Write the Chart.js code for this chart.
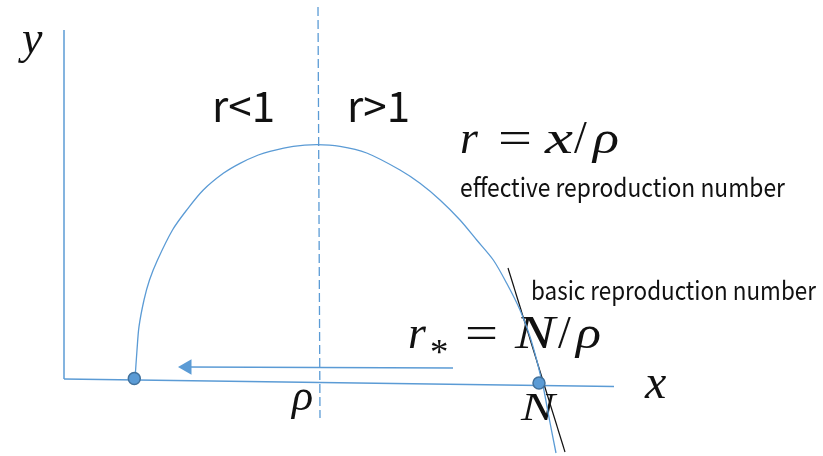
<!DOCTYPE html>
<html>
<head>
<meta charset="utf-8">
<script src="https://cdn.jsdelivr.net/npm/chart.js@4/dist/chart.umd.min.js"></script>
<style>
  html, body { margin: 0; padding: 0; background: #ffffff; }
  canvas { display: block; }
</style>
</head>
<body>
<canvas id="c" width="823" height="456"></canvas>
<script>
// Phase portrait of the SIR-type model: infected y against susceptible x.
// Units: horizontal and vertical offsets from the origin of the axes.

const rho = 255;            // threshold x = rho (r = 1)
const N = 475;              // initial susceptible population

// Trajectory through the (x, y) plane
const curveX = [71, 73, 75, 80, 85.5, 93.5, 108.5, 122.7, 139.3, 159.3, 176, 194.3, 206, 229.3, 252.7,
                276, 302.7, 336, 356, 376, 396, 412.7, 429.3, 442.7, 456, 466, 472.7, 476.8, 479.5, 485.5, 492];
const curveY = [0, 29, 52.3, 79, 99, 119, 149, 169, 189, 205.7, 215.7, 224, 227.7, 232.7, 234.3,
                232.7, 226, 209, 195.7, 179, 159, 139, 119, 95.7, 69, 42.3, 19, 2.3, -9, -41, -74];

// Axes
const yAxisX = [0, 0];
const yAxisY = [0, 349];
const xAxisX = [0, 550];
const xAxisY = [0, -7.5];

// Dashed threshold line at x = rho
const rhoLineX = [rho - 1, rho + 1];
const rhoLineY = [372, -39];

// Tangent of the trajectory at x = N
const tangentX = [444, 501];
const tangentY = [111, -73];

// Direction of motion along the x axis
const arrowX = [389, 123];
const arrowY = [11, 12];

// End points of the trajectory
const endX = [70.3, N];
const endY = [0.5, -4];

const blue = '#5b9bd5';

const toPts = (xs, ys) => xs.map((x, i) => ({ x: x, y: ys[i] }));

const sansFamily = '"Noto Sans CJK JP", "Noto Sans", sans-serif';
const serifFamily = '"Liberation Serif", "DejaVu Serif", serif';

// Text labels anchored in data units (left edge, baseline)
const textLabels = [
  { text: 'r<1', x: 148, y: 257, width: 63, stretch: 1.0 },
  { text: 'r>1', x: 283, y: 257, width: 61, stretch: 1.0 },
  { text: 'effective reproduction number', x: 396, y: 182, width: 325, stretch: 1.15 },
  { text: 'basic reproduction number', x: 467, y: 79, width: 285, stretch: 1.15 }
];

const mathLabels = [
  { x: -42, y: 326, size: 46, pieces: [{ t: 'y', dx: 0 }] },
  { x: 581, y: -19, size: 48, pieces: [{ t: 'x', dx: 0 }] },
  { x: 228, y: -31, size: 44, pieces: [{ t: 'ρ', dx: 0 }] },
  { x: 457, y: -41, size: 40, pieces: [{ t: 'N', dx: 0, w: 34 }] },
  { x: 396, y: 226, size: 46, pieces: [
      { t: 'r', dx: 0 },
      { t: '=', dx: 38, upright: true, w: 34 },
      { t: 'x', dx: 85, w: 28 },
      { t: '/', dx: 114, upright: true },
      { t: 'ρ', dx: 133, w: 26 }
  ] },
  { x: 344, y: 31, size: 46, pieces: [
      { t: 'r', dx: 0 },
      { t: '*', dx: 22, dy: 16, upright: true, scale: 0.8 },
      { t: '=', dx: 57, upright: true, w: 33 },
      { t: 'N', dx: 107, w: 40 },
      { t: '/', dx: 150, upright: true },
      { t: 'ρ', dx: 168, w: 25 }
  ] }
];

function fitFont(ctx, text, family, width) {
  ctx.font = '100px ' + family;
  const w = ctx.measureText(text).width;
  return 100 * width / w;
}

const labelPlugin = {
  id: 'labels',
  beforeDatasetsDraw(chart) {
    const ctx = chart.ctx;
    const sx = chart.scales.x, sy = chart.scales.y;
    ctx.save();
    ctx.fillStyle = '#111111';
    ctx.textBaseline = 'alphabetic';
    ctx.textAlign = 'left';

    // r<1 and r>1 share one size
    const rSize = fitFont(ctx, textLabels[0].text, sansFamily, textLabels[0].width);
    textLabels.forEach((lab, i) => {
      const size = i < 2 ? rSize : fitFont(ctx, lab.text, sansFamily, lab.width);
      ctx.font = size + 'px ' + sansFamily;
      ctx.save();
      ctx.translate(sx.getPixelForValue(lab.x), sy.getPixelForValue(lab.y));
      ctx.scale(1, lab.stretch);
      ctx.fillText(lab.text, 0, 0);
      ctx.restore();
    });

    mathLabels.forEach(lab => {
      const x0 = sx.getPixelForValue(lab.x);
      const y0 = sy.getPixelForValue(lab.y);
      lab.pieces.forEach(p => {
        const fs = lab.size * (p.scale || 1);
        ctx.font = (p.upright ? '' : 'italic ') + fs + 'px ' + serifFamily;
        const px = x0 + p.dx, py = y0 + (p.dy || 0);
        if (p.w) {
          const m = ctx.measureText(p.t).width;
          ctx.save();
          ctx.translate(px, py);
          ctx.scale(p.w / m, 1);
          ctx.fillText(p.t, 0, 0);
          ctx.restore();
        } else {
          ctx.fillText(p.t, px, py);
        }
      });
    });
    ctx.restore();
  }
};

const lineSet = (xs, ys, color, width, extra) => Object.assign({
  data: toPts(xs, ys),
  showLine: true,
  borderColor: color,
  backgroundColor: color,
  borderWidth: width,
  pointRadius: 0,
  pointHoverRadius: 0,
  tension: 0,
  clip: false
}, extra || {});

new Chart(document.getElementById('c'), {
  type: 'scatter',
  data: {
    datasets: [
      {
        data: toPts(endX, endY),
        showLine: false,
        pointRadius: 6,
        pointHoverRadius: 6,
        backgroundColor: blue,
        borderColor: '#41719c',
        borderWidth: 1.5,
        clip: false
      },
      lineSet(curveX, curveY, blue, 1.3, { tension: 0.3 }),
      lineSet(tangentX, tangentY, '#111111', 1.2),
      lineSet(arrowX, arrowY, blue, 1.6, {
        pointRadius: [0, 9],
        pointStyle: 'triangle',
        rotation: 270,
        pointBorderWidth: 0,
        pointBackgroundColor: blue
      }),
      lineSet(rhoLineX, rhoLineY, blue, 1.3, { borderDash: [9, 4] }),
      lineSet(xAxisX, xAxisY, blue, 1.5),
      lineSet(yAxisX, yAxisY, blue, 1.5)
    ]
  },
  options: {
    responsive: false,
    animation: false,
    events: [],
    layout: { padding: 0, autoPadding: false },
    plugins: { legend: { display: false }, tooltip: { enabled: false } },
    scales: {
      x: { type: 'linear', display: false, min: -64, max: 759 },
      y: { type: 'linear', display: false, min: -77, max: 379 }
    }
  },
  plugins: [labelPlugin]
});
</script>
</body>
</html>
